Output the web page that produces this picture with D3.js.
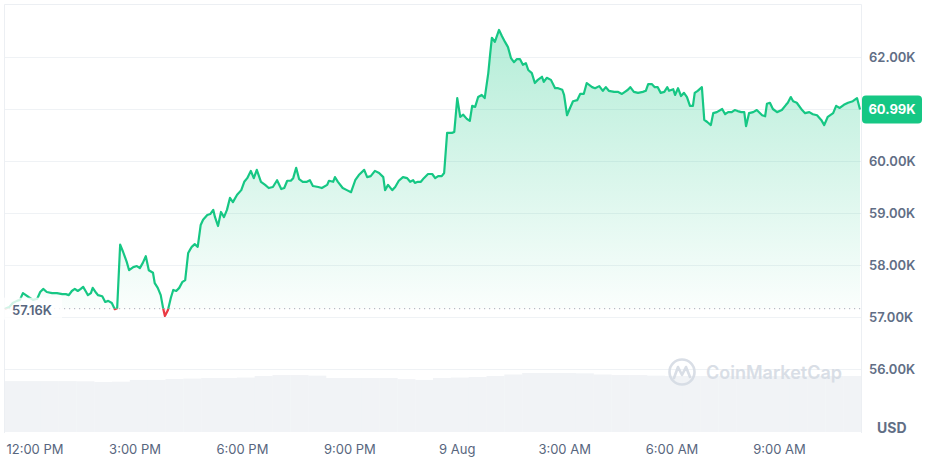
<!DOCTYPE html>
<html>
<head>
<meta charset="utf-8">
<script src="https://cdn.jsdelivr.net/npm/d3@7"></script>
<style>
html, body { margin: 0; padding: 0; background: #fff; }
svg { display: block; font-family: Inter, "Noto Sans", sans-serif; }
</style>
</head>
<body>
<div id="svg-holder"></div>
<script>
var width = 927;
var height = 457;

// BTC price, 1 day
var startTime = new Date(2024, 7, 8, 11, 22);
var openPrice = 57160;
var lastPrice = 60990;
var yTicks = [56000, 57000, 58000, 59000, 60000, 61000, 62000];

// minutes after startTime
var minutes = [
    0,7,13,20,25,30,35,40,47,54,59,64,70,79,87,96,102,107,112,117,122,127,131,136,139,144,147,153,156,163,168,173,179,184,188,
    193,198,204,208,215,221,226,231,236,241,248,251,256,261,265,268,273,278,282,287,292,297,302,307,310,313,318,323,328,
    332,339,344,349,352,357,362,367,372,377,382,389,396,401,406,412,417,422,429,436,442,449,456,463,468,473,479,483,488,493,499,506,
    511,516,525,531,540,543,550,553,558,566,573,580,587,593,602,607,613,620,627,634,637,642,649,654,660,667,674,679,684,687,692,697,702,709,716,721,726,732,736,
    741,749,753,758,763,768,774,779,783,788,793,799,804,810,813,816,821,828,833,838,843,848,853,858,863,868,873,877,883,888,893,900,903,908,915,922,927,934,937,942,947,952,959,964,970,975,984,989,996,1002,1007,1012,1021,1027,1034,1039,1044,1048,1054,1061,
    1069,1074,1078,1084,1089,1094,1099,1105,1110,1113,1120,1123,1128,1133,1138,1143,1148,1153,1156,1161,1168,1172,1177,1183,1187,1193,1202,1207,1212,1218,1223,1228,1234,1239,1242,1247,1254,1260,1269,1274,1277,1282,1287,1294,1302,1309,1312,1317,1321,1327,1336,1341,1348,1354,1361,1368,1373,1379,1388,1393,1399,1406,1413,1421,1428,1433
];

var prices = [
    57160,57190,57270,57310,57330,57460,57420,57380,57330,57350,57480,57540,57480,57460,57460,57440,57440,57420,57500,57540,57500,57540,57580,57480,57420,57460,57560,57460,57420,57400,57290,57310,57270,57150,57170,
    58390,58250,58060,57900,57960,57980,57940,58040,58170,57900,57850,57650,57560,57420,57170,57020,57130,57370,57520,57500,57560,57670,57710,58230,58290,58350,58400,58350,58770,
    58870,58960,58980,59060,58920,58750,59020,58920,59060,59290,59210,59350,59440,59600,59670,59810,59670,59830,59600,59540,59480,59500,59630,59460,59480,59620,59620,59670,59870,59650,59600,59600,
    59630,59520,59500,59480,59540,59620,59600,59690,59600,59480,59440,59400,59630,59730,59830,59690,59710,59810,59770,59690,59440,59540,59440,59500,59620,59690,59670,59600,59630,59580,59600,59600,59670,59750,59750,59670,59710,59710,59770,
    60540,60540,60560,61210,60850,60890,60810,60770,61060,61040,61230,61270,61210,61690,62040,62370,62290,62520,62400,62290,62190,61980,61900,61960,61960,61850,61880,61750,61690,61500,61560,61620,61520,61600,61560,61400,61400,61370,61270,60880,61020,61150,61170,61290,61290,61500,61420,61400,61440,61350,61420,61350,61330,61330,61290,61330,61370,61420,61330,61310,
    61330,61350,61480,61480,61420,61420,61310,61330,61420,61350,61380,61270,61400,61250,61310,61230,61060,61060,61310,61350,61420,60790,60750,60690,60920,60940,61000,60900,60940,60940,60980,60960,60940,60940,60670,60920,60940,60980,60880,60860,61100,61120,61000,60940,60980,61080,61120,61230,61150,61120,60980,60920,60940,60900,60880,60790,60690,60850,60920,61060,61020,61080,61120,61150,61210,60990
];

// volume (billions USD), 48 half-hour slots
var volume = [
    26.2,26.2,26.2,26.2,26.1,25.7,25.9,26.8,26.8,27.3,
    27.5,27.8,27.8,28.0,28.8,29.3,29.3,29.0,27.8,27.8,
    27.8,27.8,27.2,26.8,27.8,28.0,28.3,28.8,29.6,30.4,
    30.4,30.4,30.2,29.6,29.3,29.3,29.0,28.8,28.8,28.8,
    28.8,28.8,28.8,28.8,28.8,28.8,28.8,28.8
];

var green = "#16c784";
var red = "#ea3943";
var grey = "#616e85";

var svg = d3.select('#svg-holder').append('svg')
    .attr("width", width)
    .attr("height", height);

var x = d3.scaleTime()
    .domain([startTime, d3.timeMinute.offset(startTime, 1433)])
    .range([5, 860]);
var y = d3.scaleLinear().domain([56000, 62000]).range([369, 57]);
var xv = d3.scaleBand().domain(d3.range(volume.length)).range([5, 861]);
var yv = d3.scaleLinear().domain([0, 35]).range([432, 364]);

var data = minutes.map(function(m, i) {
    return { t: d3.timeMinute.offset(startTime, m), p: prices[i] };
});
var yOpen = y(openPrice);

var defs = svg.append('defs');
var gUp = defs.append('linearGradient').attr('id', 'gUp')
    .attr('gradientUnits', 'userSpaceOnUse')
    .attr('x1', 0).attr('x2', 0).attr('y1', 30).attr('y2', yOpen);
gUp.append('stop').attr('offset', 0).attr('stop-color', green).attr('stop-opacity', 0.32);
gUp.append('stop').attr('offset', 1).attr('stop-color', green).attr('stop-opacity', 0.02);
var gDown = defs.append('linearGradient').attr('id', 'gDown')
    .attr('gradientUnits', 'userSpaceOnUse')
    .attr('x1', 0).attr('x2', 0).attr('y1', yOpen).attr('y2', yOpen + 12);
gDown.append('stop').attr('offset', 0).attr('stop-color', red).attr('stop-opacity', 0.05);
gDown.append('stop').attr('offset', 1).attr('stop-color', red).attr('stop-opacity', 0.3);

defs.append('clipPath').attr('id', 'above')
    .append('rect').attr('x', 0).attr('y', 0).attr('width', width).attr('height', yOpen);
defs.append('clipPath').attr('id', 'below')
    .append('rect').attr('x', 0).attr('y', yOpen).attr('width', width).attr('height', height - yOpen);

// volume bars
svg.append('g').selectAll('rect')
    .data(volume)
    .enter().append('rect')
    .attr('x', function(d, i) { return xv(i); })
    .attr('width', xv.bandwidth() + 0.3)
    .attr('y', function(d) { return yv(d); })
    .attr('height', function(d) { return yv(0) - yv(d); })
    .attr('fill', '#f1f3f6');

// grid
svg.append('g').selectAll('line')
    .data(yTicks)
    .enter().append('line')
    .attr('x1', 4).attr('x2', 861)
    .attr('y1', function(d) { return Math.round(y(d)) + 0.5; })
    .attr('y2', function(d) { return Math.round(y(d)) + 0.5; })
    .attr('stroke', '#eff2f5');

// frame
svg.append('path')
    .attr('d', 'M4.5,433V4.5H861.5V433')
    .attr('fill', 'none')
    .attr('stroke', '#eceff3');

// watermark
var wm = svg.append('g').attr('opacity', 0.9);
wm.append('circle').attr('cx', 682).attr('cy', 372).attr('r', 12.5)
    .attr('fill', 'none').attr('stroke', '#d5dbe4').attr('stroke-width', 2.6);
wm.append('path').attr('d', 'M674,378 L678,367 L682,375 L686,367 L690,377')
    .attr('fill', 'none').attr('stroke', '#d5dbe4').attr('stroke-width', 2.6)
    .attr('stroke-linejoin', 'round').attr('stroke-linecap', 'round');
wm.append('text').attr('x', 706).attr('y', 379)
    .attr('font-size', 18).attr('font-weight', 600)
    .attr('fill', '#d5dbe4')
    .text('CoinMarketCap');

// price area + line
var area = d3.area()
    .x(function(d) { return x(d.t); })
    .y0(yOpen)
    .y1(function(d) { return y(d.p); });
var line = d3.line()
    .x(function(d) { return x(d.t); })
    .y(function(d) { return y(d.p); });

svg.append('path').datum(data).attr('d', area)
    .attr('fill', 'url(#gUp)').attr('clip-path', 'url(#above)');
svg.append('path').datum(data).attr('d', area)
    .attr('fill', 'url(#gDown)').attr('clip-path', 'url(#below)');

// open price reference line
svg.append('line')
    .attr('x1', 4).attr('x2', 861)
    .attr('y1', yOpen).attr('y2', yOpen)
    .attr('stroke', '#a7aebb')
    .attr('stroke-dasharray', '1.2,3.8');

svg.append('path').datum(data).attr('d', line)
    .attr('fill', 'none').attr('stroke', green).attr('stroke-width', 2.2)
    .attr('stroke-linejoin', 'round').attr('clip-path', 'url(#above)');
svg.append('path').datum(data).attr('d', line)
    .attr('fill', 'none').attr('stroke', red).attr('stroke-width', 2.2)
    .attr('stroke-linejoin', 'round').attr('clip-path', 'url(#below)');

// open price label
svg.append('rect')
    .attr('x', 4).attr('y', yOpen - 11).attr('width', 58).attr('height', 22)
    .attr('fill', '#fff').attr('opacity', 0.8);
svg.append('text')
    .attr('x', 12).attr('y', yOpen + 6.5)
    .attr('font-size', 13).attr('font-weight', 600)
    .attr('fill', '#58667e')
    .text(d3.format('.2f')(openPrice / 1000) + 'K');

// right axis labels
var yLast = y(lastPrice);
svg.append('g').selectAll('text')
    .data(yTicks.filter(function(d) { return Math.abs(y(d) - yLast) > 14; }))
    .enter().append('text')
    .attr('x', 869)
    .attr('y', function(d) { return y(d) + 5; })
    .attr('font-size', 13).attr('font-weight', 600)
    .attr('fill', grey)
    .text(function(d) { return d3.format('.2f')(d / 1000) + 'K'; });

svg.append('text')
    .attr('x', 877).attr('y', 433)
    .attr('font-size', 14).attr('font-weight', 700)
    .attr('fill', grey)
    .text('USD');

// last price tag
svg.append('rect')
    .attr('x', 862).attr('y', yLast - 14)
    .attr('width', 60).attr('height', 28).attr('rx', 4)
    .attr('fill', green);
svg.append('text')
    .attr('x', 892).attr('y', yLast + 4.5)
    .attr('text-anchor', 'middle')
    .attr('font-size', 13).attr('font-weight', 700)
    .attr('fill', '#fff')
    .text(d3.format('.2f')(lastPrice / 1000) + 'K');

// time axis
var fmtHour = d3.timeFormat('%-I:%M %p');
var fmtDay = d3.timeFormat('%-d %b');
var xTicks = x.ticks(d3.timeHour.every(3));
svg.append('g').selectAll('text')
    .data(xTicks)
    .enter().append('text')
    .attr('x', function(d) { return Math.max(x(d), 35); })
    .attr('y', 454)
    .attr('text-anchor', 'middle')
    .attr('font-size', 13)
    .attr('fill', '#58667e')
    .text(function(d) { return d.getHours() === 0 ? fmtDay(d) : fmtHour(d); });
</script>
</body>
</html>
